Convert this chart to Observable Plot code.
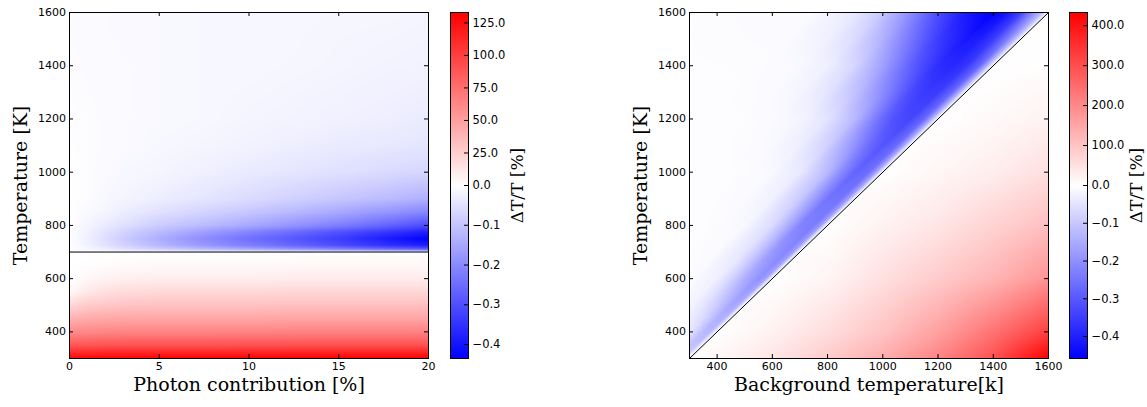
<!DOCTYPE html>
<html><head><meta charset="utf-8">
<script src="https://cdn.jsdelivr.net/npm/d3@7"></script>
<script src="https://cdn.jsdelivr.net/npm/@observablehq/plot@0.6"></script>
<style>
body{margin:0;background:#fff;}
#fig{position:relative;width:1147px;height:407px;overflow:hidden;background:#fff;}
#fig > svg{position:absolute;top:0;overflow:visible;}
</style></head><body><div id="fig"></div>
<script>
// ---------------- data ----------------
// Left panel: ΔT/T [%] on a grid of photon contribution [%] (columns) × temperature [K] (rows)
const photonContribution = [0, 1, 2, 3, 5, 7.5, 10, 12.5, 15, 17.5, 20];
const temperatureLeft = [300, 350, 400, 450, 500, 550, 600, 650, 700, 710, 725, 750, 775, 800, 850, 900, 1000, 1100, 1200, 1400, 1600];
const backgroundTempLeft = 700;
const dTLeft = [
  [129, 130, 131, 131, 132, 132, 132, 133, 133, 133, 133],
  [88, 89, 90, 90, 90, 90, 91, 91, 91, 91, 91],
  [60, 62, 63, 64, 64, 64, 64, 65, 65, 65, 65],
  [40, 44, 45, 46, 46, 46, 46, 47, 47, 47, 47],
  [20, 27, 29, 31, 32, 32, 32, 33, 33, 33, 33],
  [3, 12, 16, 18, 20, 20, 20, 21, 21, 21, 21],
  [0, 4, 6.5, 8, 9, 9, 9, 10, 10, 10, 10],
  [0, 0.5, 1.5, 2.5, 3, 3, 3, 3.5, 3.5, 3.5, 3.5],
  [0, 0, 0, 0, 0, 0, 0, 0, 0, 0, 0],
  [0, -0.013, -0.030, -0.048, -0.078, -0.113, -0.144, -0.174, -0.209, -0.244, -0.270],
  [0, -0.022, -0.048, -0.074, -0.122, -0.174, -0.218, -0.261, -0.305, -0.348, -0.383],
  [0, -0.026, -0.057, -0.087, -0.139, -0.196, -0.244, -0.287, -0.331, -0.383, -0.435],
  [0, -0.022, -0.048, -0.074, -0.117, -0.165, -0.209, -0.252, -0.296, -0.339, -0.383],
  [0, -0.017, -0.035, -0.052, -0.087, -0.117, -0.148, -0.183, -0.218, -0.261, -0.305],
  [0, -0.009, -0.017, -0.030, -0.052, -0.074, -0.096, -0.122, -0.148, -0.178, -0.209],
  [0, -0.004, -0.013, -0.017, -0.030, -0.044, -0.061, -0.078, -0.096, -0.113, -0.135],
  [0, -0.004, -0.009, -0.013, -0.017, -0.026, -0.035, -0.044, -0.052, -0.061, -0.070],
  [-0.002, -0.004, -0.007, -0.009, -0.013, -0.017, -0.022, -0.028, -0.035, -0.039, -0.044],
  [-0.004, -0.004, -0.007, -0.009, -0.011, -0.013, -0.017, -0.020, -0.024, -0.028, -0.033],
  [-0.004, -0.007, -0.009, -0.009, -0.011, -0.013, -0.013, -0.015, -0.017, -0.020, -0.022],
  [-0.007, -0.009, -0.009, -0.011, -0.011, -0.013, -0.013, -0.013, -0.015, -0.015, -0.017]
];

// Right panel: rows are temperature [K]
const temperatureRight = [300, 400, 600, 800, 1000, 1200, 1400, 1600];
// above the diagonal (T > Tb): columns are offset T − Tb [K]
const offsetAbove = [0, 10, 25, 50, 100, 150, 200, 300, 400, 500, 600, 700, 850, 1300];
const dTAbove = [
  [0, -0.037, -0.092, -0.092, -0.032, -0.012, -0.005, -0.003, -0.003, -0.003, -0.003, -0.003, -0.003, -0.003],
  [0, -0.046, -0.128, -0.124, -0.041, -0.015, -0.007, -0.003, -0.003, -0.003, -0.003, -0.003, -0.003, -0.003],
  [0, -0.055, -0.169, -0.197, -0.145, -0.075, -0.028, -0.005, -0.003, -0.003, -0.003, -0.003, -0.003, -0.003],
  [0, -0.055, -0.178, -0.236, -0.222, -0.135, -0.065, -0.013, -0.005, -0.003, -0.003, -0.003, -0.003, -0.003],
  [0, -0.055, -0.170, -0.260, -0.280, -0.210, -0.125, -0.038, -0.012, -0.005, -0.003, -0.003, -0.003, -0.003],
  [0, -0.055, -0.155, -0.270, -0.335, -0.320, -0.272, -0.128, -0.048, -0.018, -0.008, -0.004, -0.003, -0.003],
  [0, -0.055, -0.151, -0.275, -0.366, -0.389, -0.376, -0.285, -0.170, -0.075, -0.028, -0.012, -0.005, -0.003],
  [0, -0.055, -0.128, -0.192, -0.344, -0.421, -0.458, -0.412, -0.321, -0.205, -0.100, -0.040, -0.010, -0.004]
];
// below the diagonal (T < Tb): columns are background temperature Tb [K]
const backgroundTemp = [300, 400, 600, 800, 1000, 1200, 1400, 1600];
const dTBelow = [
  [0, 13, 43, 87, 139, 208, 295, 433],
  [0, 0, 22, 56, 100, 160, 238, 325],
  [0, 0, 0, 17, 52, 87, 126, 182],
  [0, 0, 0, 0, 22, 43, 74, 108],
  [0, 0, 0, 0, 0, 15, 30, 54],
  [0, 0, 0, 0, 0, 0, 9, 22],
  [0, 0, 0, 0, 0, 0, 0, 4],
  [0, 0, 0, 0, 0, 0, 0, 0]
];

// ticks and labels
const xTicksLeft = [0, 5, 10, 15, 20];
const xTicksRight = [400, 600, 800, 1000, 1200, 1400, 1600];
const yTicks = [400, 600, 800, 1000, 1200, 1400, 1600];
const cbTicksLeft = [-0.4, -0.3, -0.2, -0.1, 0, 25, 50, 75, 100, 125];
const cbTicksRight = [-0.4, -0.3, -0.2, -0.1, 0, 100, 200, 300, 400];
const xLabelLeft = "Photon contribution [%]";
const xLabelRight = "Background temperature[k]";
const yLabel = "Temperature [K]";
const cbLabel = "ΔT/T [%]";

// ---------------- helpers ----------------
function bilinear(xs, ys, Z, x, y) {
  const i = Math.max(0, Math.min(xs.length - 2, d3.bisectRight(xs, x) - 1));
  const j = Math.max(0, Math.min(ys.length - 2, d3.bisectRight(ys, y) - 1));
  const u = Math.max(0, Math.min(1, (x - xs[i]) / (xs[i + 1] - xs[i])));
  const v = Math.max(0, Math.min(1, (y - ys[j]) / (ys[j + 1] - ys[j])));
  return (1 - u) * (1 - v) * Z[j][i] + u * (1 - v) * Z[j][i + 1] + (1 - u) * v * Z[j + 1][i] + u * v * Z[j + 1][i + 1];
}
const bwr = d3.piecewise(d3.interpolateRgb, ["#0000ff", "#ffffff", "#ff0000"]);
const colorScale = (lo, hi) => ({type: "diverging", pivot: 0, symmetric: false, domain: [lo, hi], interpolate: bwr});
const fmt = d3.format(".1f");
const fmtInt = d3.format("d");

const H = 407, MT = 12, MB = 49;
const MW = 440, ML = 69, MR = 12;
const FW = MW - ML - MR, FH = H - MT - MB;
const serif = "DejaVu Serif";

function mainPlot({xDomain, xTicks, fill, lo, hi, extra, xLabel}) {
  const yDomain = d3.extent(temperatureLeft.concat(temperatureRight));
  return Plot.plot({
    width: MW, height: H, marginLeft: ML, marginRight: MR, marginTop: MT, marginBottom: MB,
    x: {domain: xDomain}, y: {domain: yDomain},
    color: colorScale(lo, hi),
    style: {fontFamily: "DejaVu Sans", fontSize: "11px", color: "black", background: "transparent", overflow: "visible"},
    marks: [
      Plot.raster({x1: xDomain[0], x2: xDomain[1], y1: yDomain[0], y2: yDomain[1], fill, pixelSize: 1}),
      ...extra,
      Plot.tickX(xTicks, {insetTop: FH - 4, stroke: "black"}),
      Plot.tickX(xTicks, {insetBottom: FH - 4, stroke: "black"}),
      Plot.tickY(yTicks, {insetRight: FW - 4, stroke: "black"}),
      Plot.tickY(yTicks, {insetLeft: FW - 4, stroke: "black"}),
      Plot.axisX(xTicks, {tickSize: 0, tickPadding: 4, label: null, tickFormat: fmtInt}),
      Plot.axisY(yTicks, {tickSize: 0, tickPadding: 3.5, label: null, tickFormat: fmtInt}),
      Plot.text([xLabel], {frameAnchor: "bottom", textAnchor: "middle", dy: 32, fontFamily: serif, fontSize: 19}),
      Plot.text([yLabel], {frameAnchor: "left", textAnchor: "middle", rotate: -90, dx: -49, fontFamily: serif, fontSize: 19}),
      Plot.frame({stroke: "black"})
    ]
  });
}

function colorbar({lo, hi, ticks, width, marginLeft}) {
  const cbw = 18;
  const pos = v => v < 0 ? 0.5 * (1 - v / lo) : 0.5 + 0.5 * v / hi;
  const val = p => p < 0.5 ? lo * (1 - 2 * p) : hi * (2 * p - 1);
  return Plot.plot({
    width, height: H, marginLeft, marginRight: width - marginLeft - cbw, marginTop: MT, marginBottom: MB,
    x: {domain: [0, 1], axis: null}, y: {domain: [0, 1], axis: null},
    color: colorScale(lo, hi),
    style: {fontFamily: "DejaVu Sans", fontSize: "11.5px", color: "black", background: "transparent", overflow: "visible"},
    marks: [
      Plot.raster({x1: 0, x2: 1, y1: 0, y2: 1, fill: (x, y) => val(y), pixelSize: 1}),
      Plot.tickY(ticks, {y: pos, insetLeft: cbw - 4, stroke: "black"}),
      Plot.text(ticks, {y: pos, frameAnchor: "right", textAnchor: "start", dx: 4, text: fmt}),
      Plot.text([cbLabel], {frameAnchor: "right", textAnchor: "middle", rotate: -90, dx: 49, dy: 0, fontFamily: serif, fontSize: 17}),
      Plot.frame({stroke: "black"})
    ]
  });
}

// ---------------- build ----------------
const fig = document.getElementById("fig");
function place(svg, left) { svg.style.left = left + "px"; svg.style.position = "absolute"; fig.appendChild(svg); }

const loL = d3.min(dTLeft.flat()), hiL = d3.max(dTLeft.flat());
const leftPlot = mainPlot({
  xDomain: d3.extent(photonContribution), xTicks: xTicksLeft, lo: loL, hi: hiL, xLabel: xLabelLeft,
  fill: (x, y) => bilinear(photonContribution, temperatureLeft, dTLeft, x, y),
  extra: [Plot.ruleY([backgroundTempLeft], {stroke: "black", strokeWidth: 1})]
});
place(leftPlot, 0);
place(colorbar({lo: loL, hi: hiL, ticks: cbTicksLeft, width: 110, marginLeft: 10}), 440);

const loR = d3.min(dTAbove.flat()), hiR = d3.max(dTBelow.flat());
const tbExtent = d3.extent(backgroundTemp);
const rightPlot = mainPlot({
  xDomain: tbExtent, xTicks: xTicksRight, lo: loR, hi: hiR, xLabel: xLabelRight,
  fill: (tb, t) => t > tb
    ? bilinear(offsetAbove, temperatureRight, dTAbove, t - tb, t)
    : bilinear(backgroundTemp, temperatureRight, dTBelow, tb, t),
  extra: [Plot.line(tbExtent.map(v => [v, v]), {stroke: "black", strokeWidth: 1})]
});
place(rightPlot, 620);
place(colorbar({lo: loR, hi: hiR, ticks: cbTicksRight, width: 87, marginLeft: 9}), 1060);
</script>
</body></html>
